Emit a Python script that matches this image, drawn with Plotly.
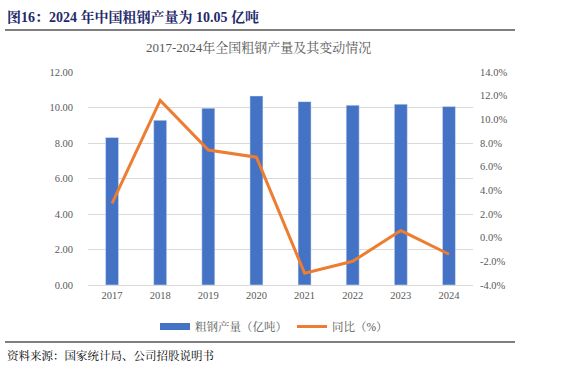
import plotly.graph_objects as go

years = ["2017", "2018", "2019", "2020", "2021", "2022", "2023", "2024"]
output = [8.31, 9.28, 9.96, 10.65, 10.33, 10.13, 10.19, 10.05]
yoy = [2.9, 11.6, 7.4, 6.8, -3.0, -2.0, 0.6, -1.4]
left_ticks = [0, 2, 4, 6, 8, 10, 12]
right_ticks = [-4, -2, 0, 2, 4, 6, 8, 10, 12, 14]

FONT = "Liberation Serif, 'Noto Serif CJK SC', 'Noto Sans CJK SC', serif"
GREY = "#595959"
BLUE = "#4472C4"
ORANGE = "#ED7D31"
W, H = 561, 372
L, R, T, B = 88, 88, 72, 87
PW, PH = W - L - R, H - T - B


def px(x):
    return (x - L) / PW


def py(y):
    return (H - B - y) / PH


fig = go.Figure()
fig.add_trace(go.Bar(x=years, y=output, name="粗钢产量（亿吨）", marker_color=BLUE,
                     width=0.27, yaxis="y", showlegend=False))
# legend-only entry drawn as a wide rectangle, like the reference legend key
fig.add_trace(go.Scatter(x=[None], y=[None], name="粗钢产量（亿吨）", mode="lines",
                         line=dict(color=BLUE, width=7), yaxis="y"))
fig.add_trace(go.Scatter(x=years, y=yoy, name="同比（%）", mode="lines",
                         line=dict(color=ORANGE, width=3), yaxis="y2"))

fig.update_layout(
    width=W, height=H,
    margin=dict(l=L, r=R, t=T, b=B, autoexpand=False),
    paper_bgcolor="white", plot_bgcolor="white",
    font=dict(family=FONT, color=GREY, size=10),
    showlegend=True,
    legend=dict(orientation="h", xref="container", yref="container",
                x=155 / W, xanchor="left", y=1 - 312 / H, yanchor="top",
                font=dict(size=11.5, color=GREY), itemwidth=30, tracegroupgap=0),
    xaxis=dict(showline=True, linecolor="#d9d9d9", ticks="", tickfont=dict(size=10.5, color=GREY)),
    yaxis=dict(range=[0, 12], tickvals=left_ticks, ticktext=[f"{v:.2f}" for v in left_ticks],
               showgrid=True, gridcolor="#d9d9d9", zeroline=False, ticklabelstandoff=14,
               tickfont=dict(size=10.5, color=GREY)),
    yaxis2=dict(range=[-4, 14], overlaying="y", side="right", tickvals=right_ticks,
                ticktext=[f"{v:.1f}%" for v in right_ticks], showgrid=False, zeroline=False,
                ticklabelstandoff=6, tickfont=dict(size=10.5, color=GREY)),
    shapes=[
        dict(type="line", xref="paper", yref="paper", x0=px(5), x1=px(515),
             y0=py(30), y1=py(30), line=dict(color="black", width=1.2)),
        dict(type="line", xref="paper", yref="paper", x0=px(5), x1=px(515),
             y0=py(342), y1=py(342), line=dict(color="black", width=1.2)),
    ],
    annotations=[
        dict(text="<b>图16：2024 年中国粗钢产量为 10.05 亿吨</b>", xref="paper", yref="paper",
             x=px(5), y=py(17), xanchor="left", yanchor="middle", showarrow=False,
             font=dict(size=14, color="#1F2A6B", family=FONT)),
        dict(text="2017-2024年全国粗钢产量及其变动情况", xref="paper", yref="paper",
             x=px(258), y=py(47), xanchor="center", yanchor="middle", showarrow=False,
             font=dict(size=13, color=GREY, family=FONT)),
        dict(text="资料来源：国家统计局、公司招股说明书", xref="paper", yref="paper",
             x=px(5), y=py(355), xanchor="left", yanchor="middle", showarrow=False,
             font=dict(size=11.5, color="black", family=FONT)),
    ],
)

fig.write_html("out.html", config={"displayModeBar": False},
               post_script="document.body.style.margin='0';")
